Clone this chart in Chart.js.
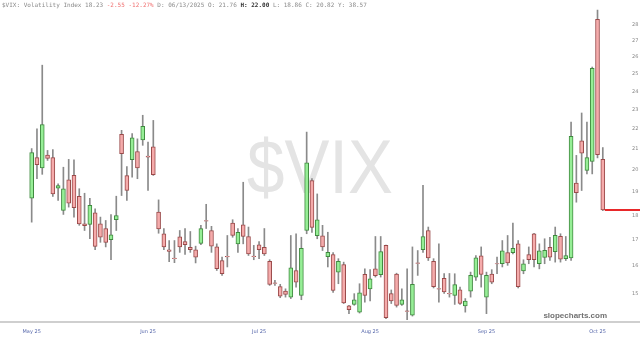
<!DOCTYPE html>
<html lang="en">
<head>
<meta charset="UTF-8">
<title>$VIX candles</title>
<script src="https://cdn.jsdelivr.net/npm/chart.js@4.4.1/dist/chart.umd.min.js"></script>
<style>
  html, body { margin: 0; padding: 0; background: #fff; }
  canvas { display: block; }
</style>
</head>
<body>
<canvas id="chart" width="640" height="338"></canvas>
<script>
// daily OHLC (log scale, 15..28)
const opens = [18.73,20.58,20.10,20.70,20.58,19.17,18.21,19.55,19.75,18.81,
  17.65,17.63,18.11,17.65,17.46,17.01,17.82,21.73,19.74,20.48,
  20.88,21.45,20.66,21.10,18.14,17.25,16.62,16.30,17.13,16.94,
  16.71,16.62,16.87,17.78,17.38,16.73,16.21,16.37,17.68,16.85,
  17.61,17.14,16.38,16.81,16.71,16.18,15.39,15.26,15.10,14.89,
  15.84,14.95,17.38,19.52,17.17,17.17,16.36,16.44,15.78,16.06,
  14.59,14.64,14.38,15.70,15.18,15.90,15.69,16.79,15.01,15.71,
  14.64,14.42,14.28,16.12,16.62,17.38,16.18,15.19,15.55,15.02,
  14.95,15.14,14.59,15.10,15.60,16.39,14.89,15.71,16.10,16.09,
  16.51,16.51,16.85,15.82,16.44,17.25,16.09,16.33,16.71,16.55,
  17.15,16.28,16.31,19.40,21.40,19.98,20.40,28.37,20.50];
const highs = [21.02,22.01,25.51,20.93,20.97,19.37,20.13,20.50,20.48,19.15,
  18.95,18.73,18.28,17.93,17.79,18.03,18.82,21.93,20.16,21.76,
  21.50,22.71,21.34,22.44,18.66,17.46,16.98,16.98,17.38,17.46,
  17.34,16.76,17.59,18.47,17.55,16.85,16.34,17.18,17.82,17.46,
  19.44,17.52,16.79,16.94,17.46,16.24,15.48,15.34,15.18,17.18,
  17.25,17.11,21.84,19.61,18.92,17.59,17.31,16.51,16.28,16.15,
  14.61,15.01,15.36,15.90,15.87,17.14,17.14,16.80,15.14,15.74,
  15.18,15.90,16.73,16.59,19.30,17.52,16.28,16.85,15.73,15.73,
  15.72,15.24,14.84,15.78,16.40,16.73,15.78,15.87,16.34,16.98,
  17.18,17.68,16.98,16.24,16.73,17.27,16.85,17.05,17.11,17.52,
  17.25,17.14,22.35,20.69,22.83,22.35,25.40,28.99,21.07];
const lows = [17.72,19.60,19.80,20.45,18.81,18.64,18.04,18.35,17.93,17.59,
  17.38,17.05,16.62,16.91,16.73,16.24,17.38,18.85,18.64,19.67,
  19.60,21.18,19.07,19.75,17.27,16.62,16.17,16.13,16.52,16.44,
  16.52,16.12,16.82,17.46,16.52,15.84,15.66,15.97,17.11,16.52,
  16.85,16.40,16.24,16.28,16.40,15.30,15.30,14.87,14.89,14.84,
  15.24,14.80,17.25,17.30,17.05,16.59,15.97,15.05,15.36,14.67,
  14.33,14.61,14.35,14.72,14.76,15.60,15.60,14.16,14.67,14.55,
  14.61,14.12,14.25,15.66,16.52,16.21,15.21,14.72,15.02,14.89,
  14.64,14.64,14.38,14.89,15.48,15.24,14.33,15.36,15.72,15.97,
  16.03,16.46,15.21,15.72,16.09,15.97,15.90,16.09,16.21,16.15,
  16.15,16.21,16.21,18.56,19.07,19.82,19.82,20.57,18.20];
const closes = [20.82,20.25,22.23,20.55,18.92,19.29,19.15,18.52,18.33,17.65,
  17.58,18.43,16.75,17.11,16.91,17.21,17.99,20.77,19.07,21.55,
  20.10,22.13,20.60,19.78,17.44,16.73,16.56,16.28,16.73,16.82,
  16.62,16.34,17.46,17.76,16.76,15.91,15.72,16.35,17.18,17.31,
  17.14,16.46,16.36,16.62,16.46,15.34,15.37,14.92,14.98,15.94,
  15.42,16.68,20.34,17.50,17.82,16.73,16.52,15.12,16.18,14.69,
  14.46,14.80,15.04,14.95,15.54,15.65,16.55,14.20,14.76,14.61,
  14.80,14.40,15.34,16.10,17.14,16.31,15.26,15.17,15.07,15.00,
  15.33,14.67,14.75,15.66,16.31,15.70,15.66,15.42,16.08,16.58,
  16.12,16.68,15.26,16.09,16.24,16.24,16.58,16.60,16.34,17.19,
  16.26,16.40,21.62,18.98,20.80,20.58,25.33,20.72,18.23];

const monthLabels = ['May 25', 'Jun 25', 'Jul 25', 'Aug 25', 'Sep 25', 'Oct 25'];
const monthIdx = [0, 22, 43, 64, 86, 107];
const yTicks = [15, 16, 17, 18, 19, 20, 21, 22, 23, 24, 25, 26, 27, 28];

const header = [
  ['$VIX: Volatility Index 18.23 ', '#8a8a8a', 'normal'],
  ['-2.55 -12.27%', '#f07070', 'normal'],
  [' D: 06/13/2025 O: 21.76 ', '#8a8a8a', 'normal'],
  ['H: 22.00', '#333', 'bold'],
  [' L: 18.86 C: 20.82 Y: 38.57', '#8a8a8a', 'normal']
];

const up = closes.map((c, i) => c >= opens[i]);
const bodyFill = up.map(u => u ? '#96ee96' : '#f5abab');
const bodyLine = up.map(u => u ? '#3f8a3f' : '#9a4a4a');

const wicks = lows.map((l, i) => ({ x: i, y: [l, highs[i]] }));
const bodies = opens.map((o, i) => {
  let c = closes[i];
  if (Math.abs(c - o) < 0.02) c = o - 0.02;
  return { x: i, y: [o, c] };
});

const extras = {
  id: 'extras',
  beforeDatasetsDraw(chart) {
    const ctx = chart.ctx;
    ctx.save();
    ctx.fillStyle = '#e4e4e4';
    ctx.font = '76px "Liberation Sans", Arial, sans-serif';
    const w = ctx.measureText('$VIX').width;
    ctx.translate(320, 193);
    ctx.scale(146 / w, 1);
    ctx.textAlign = 'center';
    ctx.textBaseline = 'alphabetic';
    ctx.fillText('$VIX', 0, 0);
    ctx.restore();
  },
  afterDraw(chart) {
    const ctx = chart.ctx;
    const y = chart.scales.y;
    const x = chart.scales.x;
    ctx.save();
    // last close line
    const n = closes.length - 1;
    const ly = Math.round(y.getPixelForValue(closes[n]));
    ctx.strokeStyle = '#e8282a';
    ctx.lineWidth = 2;
    ctx.beginPath();
    ctx.moveTo(x.getPixelForValue(n) + 2, ly);
    ctx.lineTo(chart.width, ly);
    ctx.stroke();
    // bottom rule
    ctx.strokeStyle = '#cfcfcf';
    ctx.lineWidth = 2;
    ctx.beginPath();
    ctx.moveTo(0, 322);
    ctx.lineTo(chart.width, 322);
    ctx.stroke();
    // header
    ctx.textBaseline = 'middle';
    let hx = 2;
    header.forEach(([t, col, wt]) => {
      ctx.font = wt + ' 6px "DejaVu Sans Mono", monospace';
      ctx.fillStyle = col;
      ctx.fillText(t, hx, 5);
      hx += ctx.measureText(t).width;
    });
    // brand
    ctx.font = 'bold 8px "Liberation Sans", Arial, sans-serif';
    ctx.fillStyle = '#707070';
    ctx.textAlign = 'right';
    ctx.fillText('slopecharts.com', 607, 316);
    ctx.restore();
  }
};

const hiddenGrid = len => ({
  display: true,
  drawOnChartArea: false,
  drawTicks: true,
  tickLength: len,
  color: 'rgba(0,0,0,0)'
});

new Chart(document.getElementById('chart'), {
  type: 'bar',
  data: {
    datasets: [
      {
        data: wicks,
        backgroundColor: '#8a8a8a',
        barThickness: 1,
        grouped: false,
        order: 2
      },
      {
        data: bodies,
        backgroundColor: bodyFill,
        borderColor: bodyLine,
        borderWidth: 1,
        borderSkipped: false,
        barThickness: 4,
        grouped: false,
        order: 1
      }
    ]
  },
  options: {
    responsive: false,
    animation: false,
    devicePixelRatio: 1,
    layout: { padding: 0 },
    plugins: { legend: { display: false }, tooltip: { enabled: false } },
    scales: {
      x: {
        type: 'linear',
        bounds: 'data',
        offset: false,
        min: -5.99,
        max: 109.74,
        grid: hiddenGrid(9),
        border: { display: false },
        afterBuildTicks: s => { s.ticks = monthIdx.map(v => ({ value: v })); },
        afterFit: s => { s.height = 18; },
        ticks: {
          autoSkip: false,
          maxRotation: 0,
          padding: 0,
          color: '#5566aa',
          font: { size: 5, family: 'DejaVu Sans' },
          callback: v => monthLabels[monthIdx.indexOf(v)]
        }
      },
      y: {
        type: 'logarithmic',
        bounds: 'data',
        position: 'right',
        min: 14.12,
        max: 29.47,
        grid: hiddenGrid(20),
        border: { display: false },
        afterBuildTicks: s => { s.ticks = yTicks.map(v => ({ value: v })); },
        afterFit: s => { s.width = 28; },
        ticks: {
          autoSkip: false,
          padding: 0,
          color: '#888',
          font: { size: 5, family: 'DejaVu Sans' },
          callback: v => String(v)
        }
      }
    }
  },
  plugins: [extras]
});
</script>
</body>
</html>
